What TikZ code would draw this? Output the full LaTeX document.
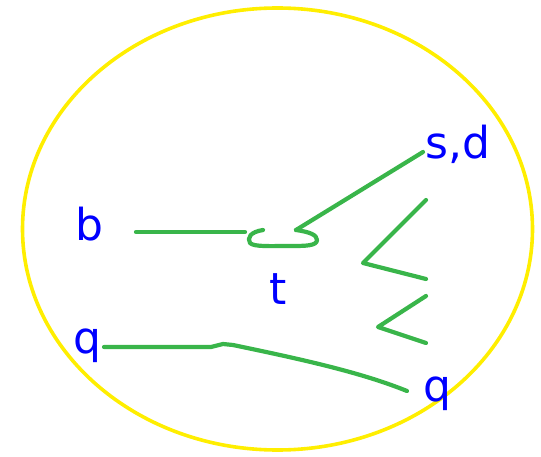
\documentclass[tikz,border=0pt]{standalone}
\usepackage{fontspec}
\setmainfont{DejaVu Sans}
\usetikzlibrary{shapes.geometric}
\definecolor{lg}{RGB}{57,181,74}
\definecolor{ly}{RGB}{255,238,0}
\begin{document}
\begin{tikzpicture}[x=1pt,y=-1pt,
  lbl/.style={text=blue,font=\fontsize{44}{50}\selectfont,inner sep=0pt,anchor=base},
  gl/.style={draw=lg,line width=4.2pt,line cap=round,line join=round}]
\useasboundingbox (0,0) rectangle (541,457);
\node[draw=ly,line width=3.6pt,ellipse,minimum width=510pt,minimum height=442pt,inner sep=0pt] (ell) at (277.5,229) {};
% labels
\node[lbl] (b) at (89,241) {b};
\node[lbl] (sd) at (458,159) {s,d};
\node[lbl] (t) at (278,305) {t};
\node[lbl] (q1) at (87,353) {q};
\node[lbl] (q2) at (437,401) {q};
% coordinates
\coordinate (b1) at (136,232);
\coordinate (b2) at (245,232);
\coordinate (h0) at (263,230);
\coordinate (h1) at (296,230);
\coordinate (s1) at (423,152);
\coordinate (z1) at (426,200);
\coordinate (z2) at (363,263);
\coordinate (z3) at (426,279);
\coordinate (y1) at (426,296);
\coordinate (y2) at (378,327);
\coordinate (y3) at (426,343);
\coordinate (qa) at (104,347);
\coordinate (qb) at (211,347);
\coordinate (qc) at (223,344);
\coordinate (qd) at (233,345);
\coordinate (qf) at (407,391);
% lines
\draw[gl] (b1) -- (b2);
\draw[gl] (h0) .. controls (250,232) and (247,238) .. (250,243)
   .. controls (254,247) and (270,246) .. (290,246)
   .. controls (305,246) and (317,246) .. (317,240)
   .. controls (317,235) and (310,232) .. (h1);
\draw[gl] (h1) -- (s1);
\draw[gl] (z1) -- (z2) -- (z3);
\draw[gl] (y1) -- (y2) -- (y3);
\draw[gl] (qa) -- (qb) -- (qc) -- (qd) .. controls (300,359) and (360,372) .. (qf);
\end{tikzpicture}
\end{document}
